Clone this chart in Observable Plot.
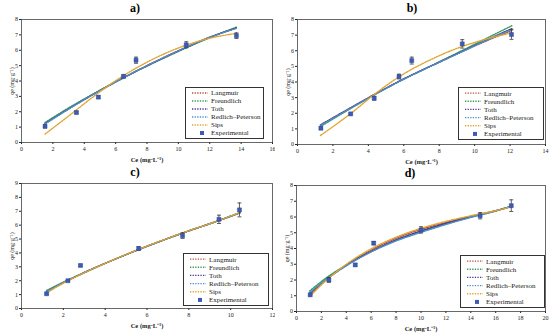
<!DOCTYPE html>
<html><head><meta charset="utf-8">
<script src="https://cdn.jsdelivr.net/npm/d3@7"></script>
<script src="https://cdn.jsdelivr.net/npm/@observablehq/plot@0.6"></script>
<style>
body{margin:0;background:#fff;}
#root{position:relative;width:550px;height:333px;background:#fff;font-family:"Liberation Serif",serif;overflow:hidden;}
.panel{position:absolute;}
.title{position:absolute;font:bold 12px "Liberation Serif",serif;transform:translate(-50%,-50%);white-space:nowrap;}
.legend{position:absolute;}
svg g[aria-label="x-axis label"]{font-weight:bold;font-size:6.5px;}
svg g[aria-label="y-axis label"]{font-size:6px;}
</style></head>
<body><div id="root"></div>
<script>
const modelNames = ["Langmuir","Freundlich","Toth","Redlich–Peterson","Sips"];
const modelColors = ["#b4533f","#3a9a5a","#4b3a8c","#4f8fcf","#e0a530"];
const expName = "Experimental";

// Panel a
const aXTicks = [0,2,4,6,8,10,12,14,16];
const aYTicks = [0,1,2,3,4,5,6,7,8];
const aExpCe = [1.5,3.5,4.9,6.5,7.3,10.5,13.7];
const aExpQe = [1.05,1.95,2.95,4.3,5.35,6.35,6.95];
const aExpErr = [0.1,0.08,0.08,0.1,0.2,0.2,0.18];
const aFitCe = [1.5,3,4.5,6,7.5,9,10.5,12,13.7];
const aLangmuir = [1.25,2.2,3.1,3.95,4.75,5.5,6.2,6.85,7.45];
const aFreundlich = [1.3,2.25,3.12,3.95,4.72,5.45,6.15,6.82,7.5];
const aToth = [1.22,2.18,3.08,3.93,4.73,5.48,6.18,6.84,7.45];
const aRP = [1.2,2.17,3.08,3.93,4.74,5.49,6.19,6.84,7.42];
const aSips = [0.55,1.72,2.92,4.02,4.95,5.72,6.33,6.78,7.1];

// Panel b
const bXTicks = [0,2,4,6,8,10,12,14];
const bYTicks = [0,1,2,3,4,5,6,7,8];
const bExpCe = [1.32,3.0,4.33,5.73,6.45,9.3,12.08];
const bExpQe = [1.04,1.96,2.96,4.35,5.37,6.44,7.04];
const bExpErr = [0.08,0.06,0.12,0.15,0.22,0.27,0.31];
const bFitCe = [1.3,3,4.5,6,7.5,9,10.5,12.1];
const bLangmuir = [1.25,2.35,3.3,4.2,5.0,5.8,6.55,7.3];
const bFreundlich = [1.15,2.3,3.28,4.18,5.02,5.85,6.7,7.6];
const bToth = [1.25,2.35,3.3,4.2,5.0,5.8,6.6,7.42];
const bRP = [1.22,2.32,3.28,4.18,5.0,5.78,6.57,7.36];
const bSips = [0.58,1.98,3.35,4.52,5.42,6.15,6.7,7.15];

// Panel c
const cXTicks = [0,2,4,6,8,10,12];
const cYTicks = [0,1,2,3,4,5,6,7,8,9];
const cExpCe = [1.2,2.22,2.82,5.6,7.7,9.44,10.42];
const cExpQe = [1.06,2.0,3.1,4.32,5.25,6.42,7.1];
const cExpErr = [0.06,0.06,0.08,0.13,0.2,0.3,0.5];
const cFitCe = [1.2,2,3,4,5,6,7,8,9,10.45];
const cLangmuir = [1.2,1.85,2.58,3.25,3.88,4.48,5.05,5.6,6.1,6.9];
const cFreundlich = [1.3,1.9,2.6,3.25,3.87,4.47,5.04,5.58,6.1,6.88];
const cToth = [1.22,1.86,2.58,3.25,3.88,4.48,5.05,5.59,6.1,6.9];
const cRP = [1.22,1.86,2.58,3.25,3.88,4.48,5.05,5.59,6.1,6.9];
const cSips = [1.12,1.82,2.57,3.25,3.89,4.49,5.06,5.6,6.1,6.92];

// Panel d
const dXTicks = [0,2,4,6,8,10,12,14,16,18,20];
const dYTicks = [0,1,2,3,4,5,6,7,8];
const dExpCe = [1.1,2.6,4.72,6.2,10.0,14.75,17.25];
const dExpQe = [1.06,2.0,2.96,4.34,5.18,6.08,6.72];
const dExpErr = [0.06,0.15,0.08,0.1,0.2,0.2,0.37];
const dFitCe = [1.05,2.5,4,6,8,10,12,14,16,17.3];
const dLangmuir = [1.05,2.1,2.95,3.9,4.65,5.22,5.65,6.05,6.4,6.68];
const dFreundlich = [1.3,2.2,2.95,3.8,4.5,5.08,5.55,5.98,6.38,6.7];
const dToth = [1.15,2.1,2.92,3.82,4.55,5.12,5.6,6.02,6.4,6.68];
const dRP = [1.2,2.1,2.9,3.78,4.48,5.02,5.52,5.98,6.38,6.7];
const dSips = [0.95,2.05,3.0,3.98,4.72,5.28,5.72,6.08,6.4,6.65];

const panels = [
  {title:"a)", left:0, top:0, w:275, h:166, m:[19,3,24,21], tx:135, ty:8,
   xDomain:[0,16], yDomain:[0,8], xTicks:aXTicks, yTicks:aYTicks,
   ce:aExpCe, qe:aExpQe, err:aExpErr, fitCe:aFitCe, fits:[aLangmuir,aFreundlich,aToth,aRP,aSips],
   leg:[185,87,79,52]},
  {title:"b)", left:275, top:0, w:275, h:166, m:[19,5,22,22], tx:412, ty:8,
   xDomain:[0,14], yDomain:[0,8], xTicks:bXTicks, yTicks:bYTicks,
   ce:bExpCe, qe:bExpQe, err:bExpErr, fitCe:bFitCe, fits:[bLangmuir,bFreundlich,bToth,bRP,bSips],
   leg:[458,87,86,53]},
  {title:"c)", left:0, top:166, w:275, h:167, m:[17,3,25,21], tx:135, ty:172,
   xDomain:[0,12], yDomain:[0,9], xTicks:cXTicks, yTicks:cYTicks,
   ce:cExpCe, qe:cExpQe, err:cExpErr, fitCe:cFitCe, fits:[cLangmuir,cFreundlich,cToth,cRP,cSips],
   leg:[183,253,86,53]},
  {title:"d)", left:275, top:166, w:275, h:167, m:[19,5,22,21], tx:410, ty:173,
   xDomain:[0,20], yDomain:[0,8], xTicks:dXTicks, yTicks:dYTicks,
   ce:dExpCe, qe:dExpQe, err:dExpErr, fitCe:dFitCe, fits:[dLangmuir,dFreundlich,dToth,dRP,dSips],
   leg:[460,255,85,53]}
];

const capSymbol = {draw(ctx){ ctx.moveTo(-2,0); ctx.lineTo(2,0); }};
const root = document.getElementById("root");
const dash = "1.3,1.3";

for (const p of panels) {
  const exp = p.ce.map((x,i)=>({x, y:p.qe[i], lo:p.qe[i]-p.err[i], hi:p.qe[i]+p.err[i]}));
  const lineMarks = p.fits.map((arr,j)=>Plot.line(p.fitCe.map((x,i)=>({x,y:arr[i]})),
     {x:"x", y:"y", stroke:modelColors[j], strokeWidth:1.4, strokeDasharray:dash, curve:"monotone-x"}));
  const chart = Plot.plot({
    width:p.w, height:p.h,
    marginTop:p.m[0], marginRight:p.m[1], marginBottom:p.m[2], marginLeft:p.m[3],
    style:{fontFamily:"'Liberation Serif', serif", fontSize:"6px", background:"white", color:"#222"},
    x:{domain:p.xDomain, ticks:p.xTicks, tickSize:2, tickPadding:2, label:"Ce (mg·L⁻¹)", labelAnchor:"center", labelOffset:19, labelArrow:"none"},
    y:{domain:p.yDomain, ticks:p.yTicks, tickSize:2, tickPadding:1.5, label:"qe (mg·g⁻¹)", labelAnchor:"center", labelOffset:12, labelArrow:"none"},
    marks:[
      Plot.frame({stroke:"#444", strokeWidth:0.8}),
      ...lineMarks,
      Plot.ruleX(exp,{x:"x", y1:"lo", y2:"hi", stroke:"#333", strokeWidth:0.8}),
      Plot.dot(exp,{x:"x", y:"lo", symbol:capSymbol, r:2, stroke:"#333", strokeWidth:0.8}),
      Plot.dot(exp,{x:"x", y:"hi", symbol:capSymbol, r:2, stroke:"#333", strokeWidth:0.8}),
      Plot.dot(exp,{x:"x", y:"y", symbol:"square", r:2.3, fill:"#3b5bb5", stroke:"#2a4090", strokeWidth:0.4})
    ]
  });
  const wrap = document.createElement("div");
  wrap.className = "panel";
  wrap.style.left = p.left+"px"; wrap.style.top = p.top+"px";
  wrap.appendChild(chart);
  root.appendChild(wrap);

  const t = document.createElement("div");
  t.className = "title"; t.textContent = p.title;
  t.style.left = p.tx+"px"; t.style.top = p.ty+"px";
  root.appendChild(t);

  // legend
  const [lx,ly,lw,lh] = p.leg;
  const legDiv = document.createElement("div");
  legDiv.className = "legend";
  legDiv.style.left = lx+"px"; legDiv.style.top = ly+"px";
  const svg = d3.select(legDiv).append("svg").attr("width",lw).attr("height",lh)
    .style("font-family","'Liberation Serif', serif").style("font-size","7px");
  svg.append("rect").attr("x",0.5).attr("y",0.5).attr("width",lw-1).attr("height",lh-1)
    .attr("fill","white").attr("stroke","#333").attr("stroke-width",1);
  const rowH = (lh-4)/6;
  const items = modelNames.map((n,j)=>({n, c:modelColors[j]})).concat([{n:expName, c:null}]);
  items.forEach((it,i)=>{
    const cy = 2 + rowH*(i+0.5);
    if (it.c) {
      svg.append("line").attr("x1",7).attr("x2",23).attr("y1",cy).attr("y2",cy)
        .attr("stroke",it.c).attr("stroke-width",1.4).attr("stroke-dasharray",dash);
    } else {
      svg.append("rect").attr("x",17-2).attr("y",cy-2).attr("width",4).attr("height",4).attr("fill","#3b5bb5");
    }
    svg.append("text").attr("x",26).attr("y",cy).attr("dy","0.35em").attr("fill","#222").text(it.n);
  });
  root.appendChild(legDiv);
}
</script></body></html>
